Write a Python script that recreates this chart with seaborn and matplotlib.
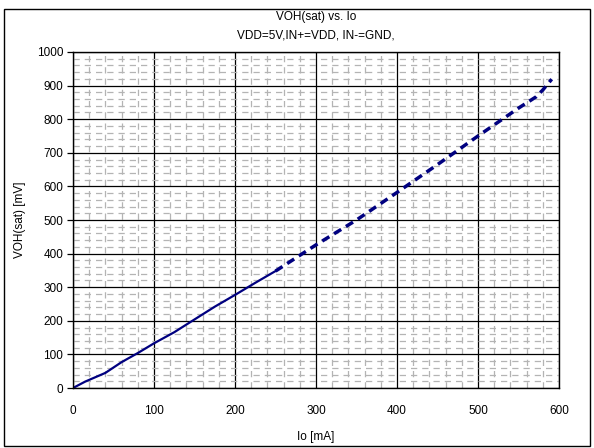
"""
VOH(sat) vs. Io curve, redrawn with seaborn
"""
import matplotlib
matplotlib.use("Agg")
import matplotlib.pyplot as plt
from matplotlib.patches import Rectangle
from matplotlib.ticker import MultipleLocator
import pandas as pd
import seaborn as sns

# measured part (solid) and extrapolated part (dashed)
io_solid = [0, 15, 40, 60, 80, 100, 125, 150, 175, 200, 225, 250]
voh_solid = [0, 19, 45, 77, 104, 133, 166, 204, 242, 277, 313, 348]
io_dash = [250, 300, 350, 400, 450, 500, 550, 572, 580, 591]
voh_dash = [348, 426, 500, 582, 665, 750, 833, 867, 887, 919]

x_ticks = [0, 100, 200, 300, 400, 500, 600]
y_ticks = [0, 100, 200, 300, 400, 500, 600, 700, 800, 900, 1000]

solid_df = pd.DataFrame({'Io': io_solid, 'VOH': voh_solid})
dash_df = pd.DataFrame({'Io': io_dash, 'VOH': voh_dash})

sns.set_style("white")
plt.rcParams['font.family'] = ['Liberation Sans', 'DejaVu Sans']
plt.rcParams['text.color'] = 'black'
plt.rcParams['axes.labelcolor'] = 'black'
plt.rcParams['xtick.color'] = 'black'
plt.rcParams['ytick.color'] = 'black'

fig = plt.figure(figsize=(5.94, 4.48), dpi=100)
ax = fig.add_axes([73 / 594, 1 - 388 / 448, 486 / 594, 336 / 448])

# outer frame of the chart
fig.patches.append(Rectangle((4 / 594, 2 / 448), 586 / 594, 437 / 448,
                             transform=fig.transFigure, fill=False,
                             edgecolor='black', linewidth=1.0))

ax.set_xlim(0, 600)
ax.set_ylim(0, 1000)
ax.set_xticks(x_ticks)
ax.set_yticks(y_ticks)
ax.xaxis.set_minor_locator(MultipleLocator(20))
ax.yaxis.set_minor_locator(MultipleLocator(20))
ax.grid(which='minor', color='#b4b4b4', linestyle=(0, (5, 4)), linewidth=0.9)
ax.grid(which='major', color='black', linestyle='-', linewidth=0.9)
ax.set_axisbelow(True)

sns.lineplot(data=solid_df, x='Io', y='VOH', ax=ax, color='#000080',
             linewidth=1.6, sort=False)
sns.lineplot(data=dash_df, x='Io', y='VOH', ax=ax, color='#000080',
             linewidth=2.5, linestyle=(0, (2.4, 1.6)), sort=False)

for side in ax.spines.values():
    side.set_color('black')
    side.set_linewidth(1.0)
ax.tick_params(axis='y', which='major', left=True, length=4, width=0.9,
               color='black', labelsize=8.5, pad=3)
ax.tick_params(axis='x', which='major', bottom=False, labelsize=8.5, pad=9)
ax.tick_params(which='minor', length=0)

ax.set_xlabel('Io [mA]', fontsize=8.5, labelpad=10)
ax.set_ylabel('VOH(sat) [mV]', fontsize=8.5, labelpad=8)

fig.text(316 / 594, 1 - 17 / 448, 'VOH(sat) vs. Io', ha='center', va='center',
         fontsize=8.5)
fig.text(316 / 594, 1 - 36 / 448, 'VDD=5V,IN+=VDD, IN-=GND,', ha='center',
         va='center', fontsize=8.5)

fig.savefig('out.png', dpi=100)
